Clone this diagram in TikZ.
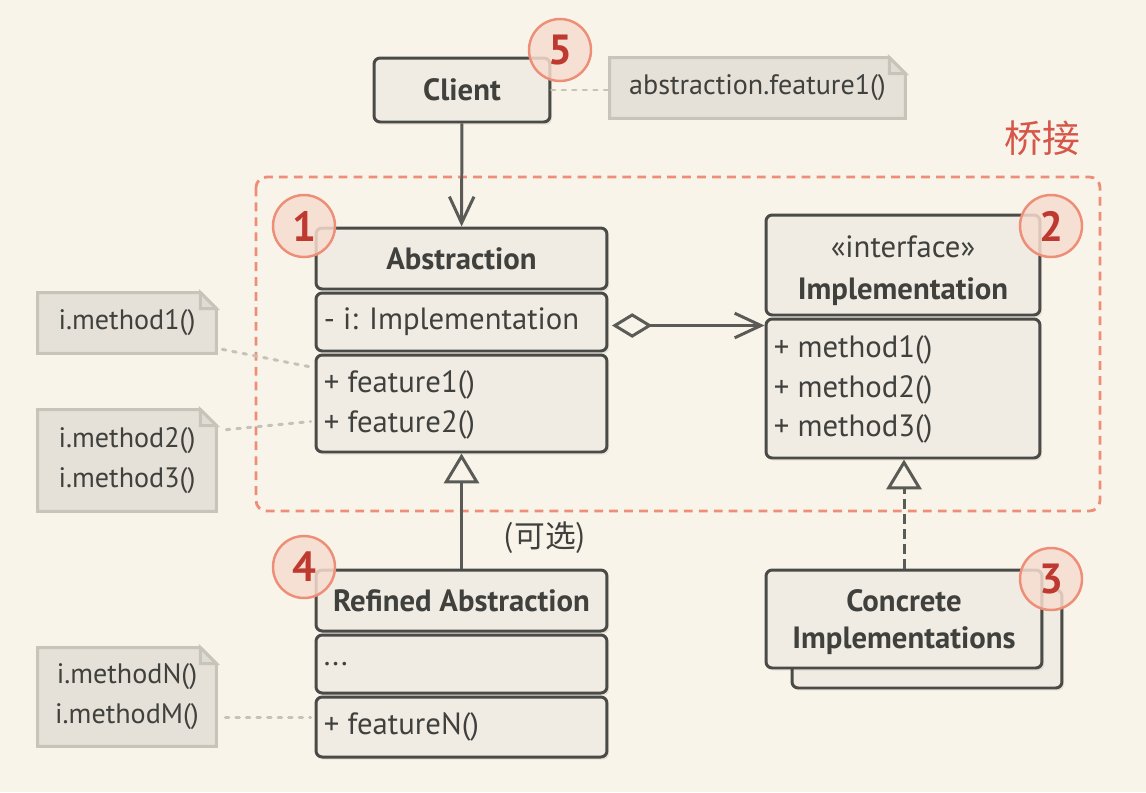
\documentclass[tikz,border=0pt]{standalone}
\usepackage{fontspec}
\setmainfont{PT Sans}
\newfontfamily\cjkfont{Noto Sans CJK SC}
\usetikzlibrary{arrows.meta, positioning, calc, shadows, backgrounds}

\definecolor{bgcream}{HTML}{F8F4EA}
\definecolor{boxfill}{HTML}{F0ECE4}
\definecolor{boxline}{HTML}{4A4A47}
\definecolor{linegray}{HTML}{5A5A56}
\definecolor{textgray}{HTML}{40403D}
\definecolor{notefill}{HTML}{E5E1D8}
\definecolor{noteline}{HTML}{C8C4B9}
\definecolor{dotgray}{HTML}{C6C2B8}
\definecolor{bridgered}{HTML}{EF8E78}
\definecolor{bridgetext}{HTML}{D6564A}
\definecolor{badgefill}{HTML}{F6DCCF}
\definecolor{badgeline}{HTML}{EE8E77}
\definecolor{badgenum}{HTML}{BE3A30}

\tikzset{
  part/.style={draw=boxline, fill=boxfill, line width=1.7pt, rounded corners=3.5pt,
    inner sep=0pt, text=textgray, font=\bfseries\fontsize{17.5}{21.5}\selectfont, align=center,
    drop shadow={shadow xshift=1.2pt, shadow yshift=-1.5pt, fill=black, opacity=0.07}},
  title/.style={text=textgray, inner sep=0pt, font=\bfseries\fontsize{17.5}{21.5}\selectfont, align=center},
  txt/.style={text=textgray, inner sep=0pt, font=\fontsize{17.5}{22.7}\selectfont, align=left},
  note/.style={inner sep=0pt, text=textgray, font=\fontsize{16}{22.7}\selectfont, align=center},
  noteshape/.style={draw=noteline, fill=notefill, line width=1.7pt},
  conn/.style={draw=linegray, line width=1.7pt},
  dotconn/.style={draw=dotgray, line width=1.7pt, line cap=round, dash pattern=on 2pt off 4pt},
  badge/.style={circle, minimum size=1.24cm, inner sep=0pt, draw=badgeline, line width=1.4pt,
    fill=badgefill, fill opacity=0.85, text opacity=1, text=badgenum,
    font=\bfseries\fontsize{24}{24}\selectfont},
}

\begin{document}
\begin{tikzpicture}[x=0.02cm, y=-0.02cm]
    % Fond
    \begin{scope}[on background layer]
      \fill[bgcream] (0,0) rectangle (1146,792);
    \end{scope}

    % Pont
    \draw[bridgered, line width=1.6pt, dash pattern=on 5pt off 3.5pt, rounded corners=6pt]
        (256,177) rectangle (1100,511);
    \node[text=bridgetext, inner sep=0pt, font=\cjkfont\fontsize{21.5}{21.5}\selectfont] (bridge) at (1042,138) {桥接};

    % Client
    \node[part, minimum width=3.52cm, minimum height=1.28cm] (client) at (462,90) {Client};

    % Abstraction
    \node[part, minimum width=5.82cm, minimum height=1.22cm] (abs-head) at (461.5,258.5) {Abstraction};
    \node[part, minimum width=5.82cm, minimum height=1.16cm] (abs-attr) at (461.5,322) {};
    \node[part, minimum width=5.82cm, minimum height=1.94cm] (abs-ops) at (461.5,403.5) {};
    \node[txt, anchor=west] (abs-attr-t) at ($(abs-attr.west)+(9,0)$) {- i: Implementation};
    \node[txt, anchor=west] (abs-ops-t) at ($(abs-ops.west)+(9,1)$) {+ feature1()\\+ feature2()};

    % Implementation
    \node[part, minimum width=5.48cm, minimum height=2.0cm] (impl-head) at (903,265) {};
    \node[title] (impl-head-t) at ($(impl-head.center)+(0,6)$) {\mdseries «interface»\\[2.5pt]Implementation};
    \node[part, minimum width=5.48cm, minimum height=2.78cm] (impl-ops) at (903,388.5) {};
    \node[txt, anchor=west] (impl-ops-t) at ($(impl-ops.west)+(9,1)$) {+ method1()\\+ method2()\\+ method3()};

    % Refined Abstraction
    \node[part, minimum width=5.82cm, minimum height=1.22cm] (ref-head) at (461.5,600.5) {Refined Abstraction};
    \node[part, minimum width=5.82cm, minimum height=1.16cm] (ref-attr) at (461.5,664) {};
    \node[part, minimum width=5.82cm, minimum height=1.2cm] (ref-ops) at (461.5,727) {};
    \node[txt, anchor=west] (ref-attr-t) at ($(ref-attr.west)+(9,0)$) {...};
    \node[txt, anchor=west] (ref-ops-t) at ($(ref-ops.west)+(9,0)$) {+ featureN()};

    % Concrete Implementations
    \node[part, minimum width=5.4cm, minimum height=1.96cm] (conc-back) at (927,639) {};
    \node[part, minimum width=5.52cm, minimum height=1.96cm] (conc) at (904,619) {};
    \node[title] (conc-t) at ($(conc.center)+(0,3)$) {Concrete\\Implementations};

    % Notes
    \node[note, minimum width=5.9cm, minimum height=1.2cm] (note-client) at (757.5,88) {abstraction.feature1()};
    \node[note, minimum width=3.56cm, minimum height=1.2cm] (note-m1) at (127,323) {i.method1()};
    \node[note, minimum width=3.56cm, minimum height=2.02cm] (note-m23) at (127,460.5) {i.method2()\\i.method3()};
    \node[note, minimum width=3.56cm, minimum height=1.96cm] (note-mnm) at (127,697) {i.methodN()\\i.methodM()};
    \begin{scope}[on background layer]
      \foreach \n in {note-client, note-m1, note-m23, note-mnm} {
        \draw[noteshape] (\n.south west) -- (\n.north west) -- ($(\n.north east)+(-16,0)$)
            -- ($(\n.north east)+(0,16)$) -- (\n.south east) -- cycle;
        \draw[noteshape, fill=noteline!60] ($(\n.north east)+(-16,0)$) |- ($(\n.north east)+(0,16)$) -- cycle;
      }
    \end{scope}

    % Liens des notes
    \draw[dotconn] (client.east) -- (note-client.west |- client.east);
    \draw[dotconn] ($(note-m1.south east)+(6,-4)$) -- ($(abs-ops.north west)+(-6,13)$);
    \draw[dotconn] ($(note-m23.north east)+(10,20)$) -- ($(abs-ops.west)+(-4,18)$);
    \draw[dotconn] ($(note-mnm.east)+(9,20)$) -- ($(ref-ops.west)+(-4,-10)$);

    % Relations
    \draw[conn, -{Straight Barb[length=15pt, width=14pt]}] (client) -- (abs-head);
    \draw[conn, {Diamond[open, length=23pt, width=14pt]}-{Straight Barb[length=15pt, width=14pt]}, shorten <=2pt]
        ([yshift=-2pt]abs-attr.east) -- ([yshift=-2pt]abs-attr.east -| impl-ops.west);
    \draw[conn, -{Triangle[open, length=17pt, width=20pt]}] (ref-head) -- (abs-ops);
    \draw[conn, dash pattern=on 5.5pt off 3pt, -{Triangle[open, length=17pt, width=20pt]}]
        (conc.north) -- (conc.north |- impl-ops.south);
    \node[text=textgray, inner sep=0pt, font=\cjkfont\fontsize{17.5}{17.5}\selectfont] (optional) at (545,538) {(可选)};

    % Pastilles
    \node[badge] (b1) at (304,226) {1};
    \node[badge] (b2) at (1051,226) {2};
    \node[badge] (b3) at (1051,579) {3};
    \node[badge] (b4) at (304,567) {4};
    \node[badge] (b5) at (560,50) {5};
\end{tikzpicture}
\end{document}
